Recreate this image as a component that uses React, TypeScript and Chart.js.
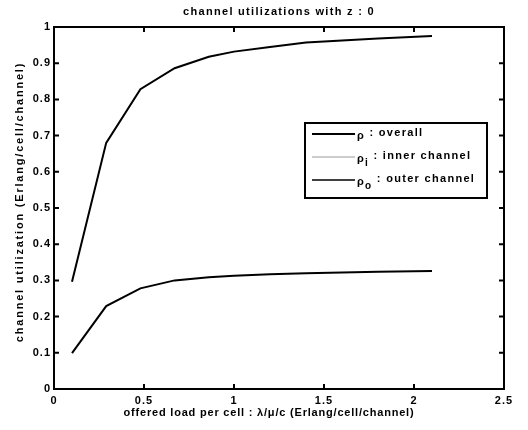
import React, { useEffect, useRef } from "react";
import { Chart, registerables } from "chart.js";

Chart.register(...registerables);

const offeredLoad = [0.1, 0.29, 0.48, 0.67, 0.86, 1.0, 1.2, 1.4, 1.6, 1.8, 2.1];
const innerUtil = [0.296, 0.68, 0.828, 0.886, 0.918, 0.932, 0.945, 0.957, 0.963, 0.968, 0.975];
const outerUtil = [0.099, 0.229, 0.278, 0.3, 0.309, 0.313, 0.317, 0.32, 0.322, 0.324, 0.326];

const titleText = "channel utilizations with z : 0";
const xLabelText = "offered load per cell : \u03bb/\u03bc/c (Erlang/cell/channel)";
const yLabelText = "channel utilization (Erlang/cell/channel)";
const legendEntries = [
  { sym: "\u03c1", sub: "", label: " : overall", color: "#000", width: 2 },
  { sym: "\u03c1", sub: "i", label: " : inner channel", color: "#9a9a9a", width: 1 },
  { sym: "\u03c1", sub: "o", label: " : outer channel", color: "#000", width: 1.5 },
];

const FONT = '"Liberation Sans", Arial, Helvetica, sans-serif';

const fmt = (v: any) => String(+Number(v).toFixed(2));

const spacingPlugin = {
  id: "spacing",
  beforeDraw(chart: any) {
    (chart.ctx as any).letterSpacing = "1px";
  },
};

const decorPlugin = {
  id: "decor",
  afterDraw(chart: any) {
    const ctx = chart.ctx as any;
    const { left, right, top, bottom } = chart.chartArea;
    const xs = chart.scales.x;
    const ys = chart.scales.y;
    ctx.save();
    ctx.strokeStyle = "#000";
    ctx.fillStyle = "#000";
    ctx.lineWidth = 2;
    ctx.beginPath();
    xs.ticks.forEach((t: any) => {
      const px = xs.getPixelForValue(t.value);
      ctx.moveTo(px, bottom);
      ctx.lineTo(px, bottom - 5);
      ctx.moveTo(px, top);
      ctx.lineTo(px, top + 5);
    });
    ys.ticks.forEach((t: any) => {
      const py = ys.getPixelForValue(t.value);
      ctx.moveTo(left, py);
      ctx.lineTo(left + 5, py);
      ctx.moveTo(right, py);
      ctx.lineTo(right - 5, py);
    });
    ctx.stroke();
    ctx.lineWidth = 2;
    ctx.strokeRect(left, top, right - left, bottom - top);

    ctx.font = `bold 11px ${FONT}`;
    ctx.textAlign = "center";
    ctx.textBaseline = "middle";
    ctx.letterSpacing = "1.3px";
    ctx.fillText(titleText, (left + right) / 2, 12);
    ctx.letterSpacing = "0.8px";
    ctx.fillText(xLabelText, 269, 413);
    ctx.save();
    ctx.translate(20, 202);
    ctx.rotate(-Math.PI / 2);
    ctx.letterSpacing = "1.8px";
    ctx.fillText(yLabelText, 0, 0);
    ctx.restore();

    const lx = 305, ly = 123, lw = 182, lh = 75;
    ctx.fillStyle = "#fff";
    ctx.fillRect(lx, ly, lw, lh);
    ctx.lineWidth = 2;
    ctx.strokeStyle = "#000";
    ctx.strokeRect(lx, ly, lw, lh);
    const rows = [134, 157, 180];
    ctx.letterSpacing = "1.3px";
    legendEntries.forEach((e, i) => {
      const y = rows[i];
      ctx.strokeStyle = e.color;
      ctx.lineWidth = e.width;
      ctx.beginPath();
      ctx.moveTo(312, y);
      ctx.lineTo(355, y);
      ctx.stroke();
      ctx.fillStyle = "#000";
      ctx.textAlign = "left";
      ctx.textBaseline = "middle";
      ctx.font = `bold 11px ${FONT}`;
      let x = 357;
      ctx.fillText(e.sym, x, y + 2);
      x += ctx.measureText(e.sym).width;
      if (e.sub) {
        ctx.font = `bold 10px ${FONT}`;
        ctx.fillText(e.sub, x, y + 6);
        x += ctx.measureText(e.sub).width;
        ctx.font = `bold 11px ${FONT}`;
      }
      ctx.fillText(e.label, x, y - 1);
    });
    ctx.letterSpacing = "0px";
    ctx.restore();
  },
};

export default function App() {
  const ref = useRef<HTMLCanvasElement | null>(null);
  useEffect(() => {
    document.body.style.margin = "0";
    const canvas = ref.current!;
    const tickFont = { family: FONT, weight: "bold" as const, size: 11 };
    const chart = new Chart(canvas, {
      type: "line",
      data: {
        datasets: [
          {
            label: "inner",
            data: offeredLoad.map((x, i) => ({ x, y: innerUtil[i] })),
            borderColor: "#000",
            borderWidth: 2,
            pointRadius: 0,
            tension: 0,
            fill: false,
          },
          {
            label: "outer",
            data: offeredLoad.map((x, i) => ({ x, y: outerUtil[i] })),
            borderColor: "#000",
            borderWidth: 2,
            pointRadius: 0,
            tension: 0,
            fill: false,
          },
        ],
      },
      options: {
        responsive: false,
        animation: false,
        devicePixelRatio: 1,
        layout: { padding: { top: 27, right: 24, left: 0, bottom: 0 } },
        plugins: { legend: { display: false }, tooltip: { enabled: false }, title: { display: false } },
        scales: {
          x: {
            type: "linear",
            min: 0,
            max: 2.5,
            grid: { display: false, drawTicks: false },
            border: { display: false },
            ticks: { stepSize: 0.5, color: "#000", font: tickFont, padding: 5, maxRotation: 0, callback: fmt },
            afterFit: (s: any) => {
              s.height = 41;
            },
          },
          y: {
            type: "linear",
            min: 0,
            max: 1,
            grid: { display: false, drawTicks: false },
            border: { display: false },
            ticks: { stepSize: 0.1, color: "#000", font: tickFont, padding: 3, callback: fmt },
            afterFit: (s: any) => {
              s.width = 54;
            },
          },
        },
      },
      plugins: [spacingPlugin, decorPlugin],
    });
    return () => chart.destroy();
  }, []);
  return (
    <div style={{ width: 528, height: 430, background: "#fff" }}>
      <canvas ref={ref} width={528} height={430} style={{ display: "block" }} />
    </div>
  );
}
